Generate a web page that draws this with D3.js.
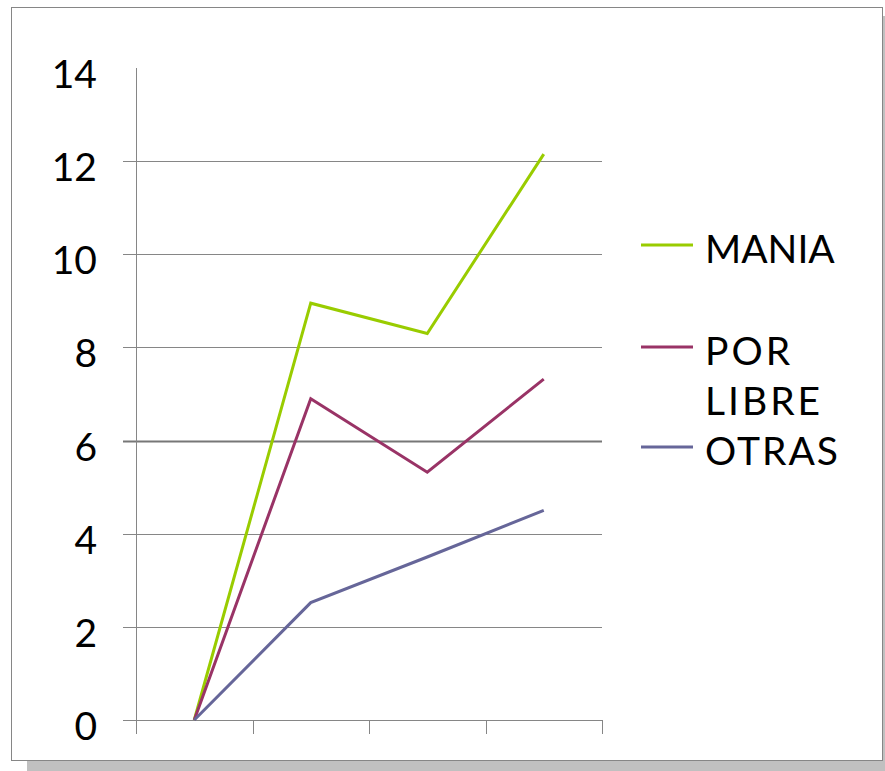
<!DOCTYPE html>
<html>
<head>
<meta charset="utf-8">
<script src="https://d3js.org/d3.v7.min.js"></script>
<style>
    body { margin: 0; background: #fff; }
    text { font-family: Lato, "Open Sans", sans-serif; fill: #000; }
</style>
</head>
<body>
<svg id="chart"></svg>
<script>
    const width = 885,
        height = 771;

    // data
    const categories = ["1", "2", "3", "4"];
    const mania = [0, 8.95, 8.3, 12.15];
    const porLibre = [0, 6.9, 5.32, 7.32];
    const otras = [0, 2.52, 3.5, 4.5];
    const yTicks = [0, 2, 4, 6, 8, 10, 12, 14];

    const series = [
        { name: "MANIA", lines: ["MANIA"], values: mania, color: "#99cc00", spacing: 0 },
        { name: "POR LIBRE", lines: ["POR", "LIBRE"], values: porLibre, color: "#993366", spacing: 3 },
        { name: "OTRAS", lines: ["OTRAS"], values: otras, color: "#666699", spacing: 2 }
    ];

    var svg = d3.select("#chart")
        .attr("width", width)
        .attr("height", height);

    // shadow + frame
    svg.append("rect").attr("x", 27).attr("y", 16).attr("width", 858).attr("height", 755).attr("fill", "#c0c0c0");
    svg.append("rect").attr("x", 11.5).attr("y", 7.5).attr("width", 871).attr("height", 753)
        .attr("fill", "#fff").attr("stroke", "#868686").attr("stroke-width", 1);

    var x = d3.scaleBand().domain(categories).range([136, 602]).padding(0);
    var y = d3.scaleLinear().domain([0, 14]).range([720, 68]);

    // gridlines
    svg.append("g").selectAll("line")
        .data(yTicks.filter(d => d < 14))
        .enter().append("line")
        .attr("x1", 123).attr("x2", 602)
        .attr("y1", d => Math.round(y(d)) + 0.5).attr("y2", d => Math.round(y(d)) + 0.5)
        .attr("stroke", d => d === 6 ? "#777" : "#868686")
        .attr("stroke-width", d => d === 6 ? 2 : 1);

    // y axis line
    svg.append("line")
        .attr("x1", 136.5).attr("x2", 136.5)
        .attr("y1", y(14)).attr("y2", y(0))
        .attr("stroke", "#868686");

    // x tick marks at category boundaries
    var xTickPos = categories.map(c => x(c)).concat([x.range()[1]]);
    svg.append("g").selectAll("line")
        .data(xTickPos)
        .enter().append("line")
        .attr("x1", d => Math.round(d) + 0.5).attr("x2", d => Math.round(d) + 0.5)
        .attr("y1", y(0)).attr("y2", y(0) + 14)
        .attr("stroke", "#868686");

    // y labels
    svg.append("g").selectAll("text")
        .data(yTicks)
        .enter().append("text")
        .attr("x", 97)
        .attr("y", d => y(d) + 20)
        .attr("text-anchor", "end")
        .attr("font-size", "39px")
        .text(d => d);

    // lines
    var line = d3.line()
        .x((d, i) => x(categories[i]) + x.bandwidth() / 2)
        .y(d => y(d));

    svg.append("g").selectAll("path")
        .data(series)
        .enter().append("path")
        .attr("d", d => line(d.values))
        .attr("fill", "none")
        .attr("stroke", d => d.color)
        .attr("stroke-width", 3)
        .attr("stroke-linejoin", "miter");

    // legend
    var legendY = [245, 347, 447];
    var legend = svg.append("g").selectAll("g")
        .data(series)
        .enter().append("g")
        .attr("transform", (d, i) => "translate(0," + legendY[i] + ")");

    legend.append("line")
        .attr("x1", 641).attr("x2", 693)
        .attr("y1", 0).attr("y2", 0)
        .attr("stroke", d => d.color)
        .attr("stroke-width", 3);

    legend.each(function (d) {
        d3.select(this).selectAll("text")
            .data(d.lines)
            .enter().append("text")
            .attr("x", 705)
            .attr("y", (t, j) => 18 + j * 50)
            .attr("font-size", "39px")
            .attr("letter-spacing", d.spacing + "px")
            .text(t => t);
    });
</script>
</body>
</html>
